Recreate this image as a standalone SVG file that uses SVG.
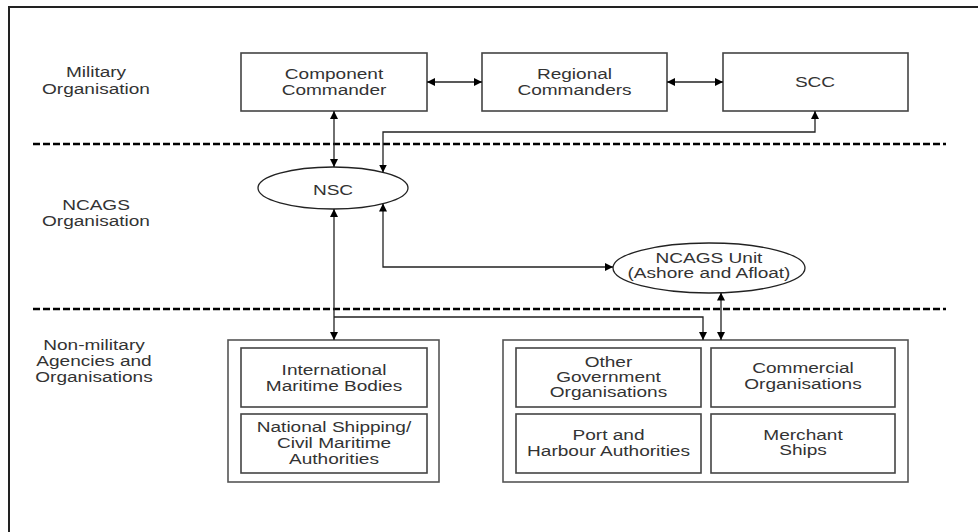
<svg xmlns="http://www.w3.org/2000/svg" width="978" height="532" viewBox="0 0 978 532">
<defs>
<marker id="ah" viewBox="0 0 10 10" refX="10" refY="5" markerWidth="8" markerHeight="8" markerUnits="userSpaceOnUse" orient="auto-start-reverse">
<path d="M0,0 L10,5 L0,10 z" fill="#000"/>
</marker>
<style>
text{font-family:"Liberation Sans",Arial,sans-serif;font-size:14px;fill:#333;text-anchor:middle}
.box{fill:#fff;stroke:#444;stroke-width:1.6}
.grp{fill:#fff;stroke:#555;stroke-width:1.6}
.ell{fill:#fff;stroke:#222;stroke-width:1.3}
.con{fill:none;stroke:#222;stroke-width:1.3}
.dash{fill:none;stroke:#000;stroke-width:2.5;stroke-dasharray:7 3}
.border{fill:none;stroke:#222;stroke-width:2}
</style>
</defs>
<rect width="978" height="532" fill="#fff"/>
<path class="border" d="M9,540 V7 H990"/>
<g id="bands">
<line class="dash" x1="33" y1="144" x2="946" y2="144"/>
<line class="dash" x1="33" y1="309" x2="946" y2="309"/>
<text transform="translate(96,77) scale(1.36,1)"><tspan x="0">Military</tspan><tspan x="0" dy="17">Organisation</tspan></text>
<text transform="translate(96,210) scale(1.36,1)"><tspan x="0">NCAGS</tspan><tspan x="0" dy="16">Organisation</tspan></text>
<text transform="translate(94,350) scale(1.36,1)"><tspan x="0">Non-military</tspan><tspan x="0" dy="16">Agencies and</tspan><tspan x="0" dy="16">Organisations</tspan></text>
</g>
<g id="component-commander">
<rect class="box" x="241" y="53" width="186" height="58"/>
<text transform="translate(334,79) scale(1.36,1)"><tspan x="0">Component</tspan><tspan x="0" dy="16">Commander</tspan></text>
</g>
<g id="regional-commanders">
<rect class="box" x="482" y="53" width="185" height="58"/>
<text transform="translate(574.5,79) scale(1.36,1)"><tspan x="0">Regional</tspan><tspan x="0" dy="16">Commanders</tspan></text>
</g>
<g id="scc">
<rect class="box" x="723" y="53" width="185" height="58"/>
<text transform="translate(815,87) scale(1.36,1)">SCC</text>
</g>
<g id="nsc">
<ellipse class="ell" cx="333" cy="188" rx="75" ry="21"/>
<text transform="translate(333,195) scale(1.36,1)">NSC</text>
</g>
<g id="ncags-unit">
<ellipse class="ell" cx="709" cy="268" rx="96" ry="25"/>
<text transform="translate(709,263) scale(1.36,1)"><tspan x="0">NCAGS Unit</tspan><tspan x="0" dy="15">(Ashore and Afloat)</tspan></text>
</g>
<g id="international-group">
<rect class="grp" x="228" y="340" width="211" height="142"/>
<g id="international-maritime-bodies">
<rect class="box" x="241" y="348" width="186" height="59"/>
<text transform="translate(334,375) scale(1.36,1)"><tspan x="0">International</tspan><tspan x="0" dy="16">Maritime Bodies</tspan></text>
</g>
<g id="national-shipping">
<rect class="box" x="241" y="414" width="186" height="59"/>
<text transform="translate(334,432) scale(1.36,1)"><tspan x="0">National Shipping/</tspan><tspan x="0" dy="16">Civil Maritime</tspan><tspan x="0" dy="16">Authorities</tspan></text>
</g>
</g>
<g id="national-group">
<rect class="grp" x="503" y="340" width="405" height="142"/>
<g id="other-government">
<rect class="box" x="516" y="348" width="185" height="59"/>
<text transform="translate(608.5,367) scale(1.36,1)"><tspan x="0">Other</tspan><tspan x="0" dy="15">Government</tspan><tspan x="0" dy="15.5">Organisations</tspan></text>
</g>
<g id="commercial">
<rect class="box" x="711" y="348" width="184" height="59"/>
<text transform="translate(803,373) scale(1.36,1)"><tspan x="0">Commercial</tspan><tspan x="0" dy="16">Organisations</tspan></text>
</g>
<g id="port-harbour">
<rect class="box" x="516" y="414" width="185" height="59"/>
<text transform="translate(608.5,440) scale(1.36,1)"><tspan x="0">Port and</tspan><tspan x="0" dy="16">Harbour Authorities</tspan></text>
</g>
<g id="merchant-ships">
<rect class="box" x="711" y="414" width="184" height="59"/>
<text transform="translate(803,440) scale(1.36,1)"><tspan x="0">Merchant</tspan><tspan x="0" dy="15">Ships</tspan></text>
</g>
</g>
<g id="connectors">
<path class="con" d="M427,82 H482" marker-start="url(#ah)" marker-end="url(#ah)"/>
<path class="con" d="M667,82 H723" marker-start="url(#ah)" marker-end="url(#ah)"/>
<path class="con" d="M334,111 V167" marker-start="url(#ah)" marker-end="url(#ah)"/>
<path class="con" d="M815,111 V132 H383 V172.5" marker-start="url(#ah)" marker-end="url(#ah)"/>
<path class="con" d="M383,203.5 V267 H613" marker-start="url(#ah)" marker-end="url(#ah)"/>
<path class="con" d="M334,209 V340" marker-start="url(#ah)" marker-end="url(#ah)"/>
<path class="con" d="M334,317 H703 V340" marker-end="url(#ah)"/>
<path class="con" d="M721,292.6 V340" marker-start="url(#ah)" marker-end="url(#ah)"/>
</g>
</svg>
